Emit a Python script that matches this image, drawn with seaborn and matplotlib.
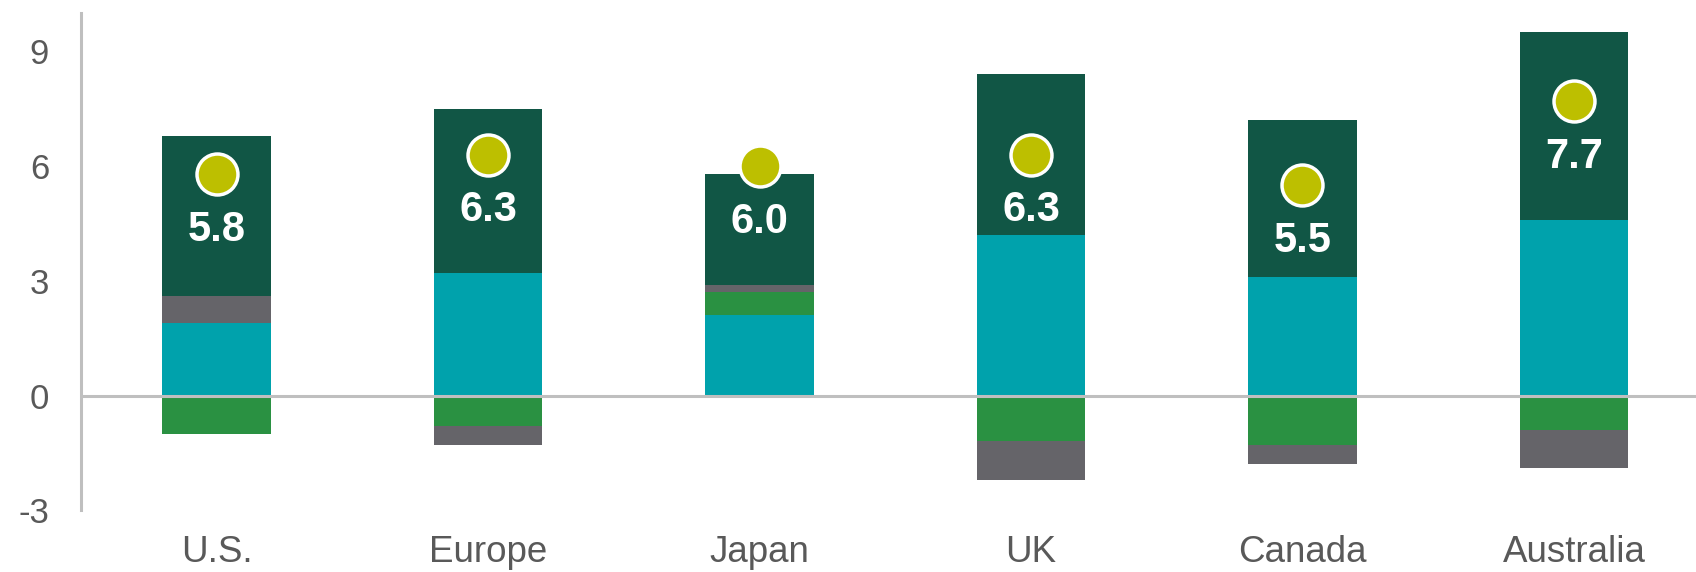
import numpy as np
import pandas as pd
import matplotlib
matplotlib.use("Agg")
import matplotlib.pyplot as plt
import seaborn as sns

# values
regions = ["U.S.", "Europe", "Japan", "UK", "Canada", "Australia"]
teal_part = [1.9, 3.2, 2.1, 4.2, 3.1, 4.6]
green_part = [-1.0, -0.8, 0.6, -1.2, -1.3, -0.9]
gray_part = [0.7, -0.5, 0.2, -1.0, -0.5, -1.0]
dark_part = [4.2, 4.3, 2.9, 4.2, 4.1, 4.9]
totals = [5.8, 6.3, 6.0, 6.3, 5.5, 7.7]

c_teal = "#00A2AC"
c_green = "#2A9142"
c_gray = "#656469"
c_dark = "#115645"
c_dot = "#BDBF00"
c_axis = "#BFBFBF"
c_text = "#595959"

sns.set_style("white")
plt.rcParams["font.family"] = ["Liberation Sans", "DejaVu Sans"]

teal = np.array(teal_part)
green = np.array(green_part)
gray = np.array(gray_part)
dark = np.array(dark_part)

# cumulative stacks (positive side: teal, green, gray, dark; negative side: green, gray)
pos1 = teal
pos2 = pos1 + np.clip(green, 0, None)
pos3 = pos2 + np.clip(gray, 0, None)
pos4 = pos3 + dark
neg1 = np.clip(green, None, 0)
neg2 = neg1 + np.clip(gray, None, 0)

fig = plt.figure(figsize=(16.96, 5.72), dpi=100)
ax = fig.add_axes([0.0478, 0.108, 0.9522, 0.869])

layers = [(pos4, c_dark), (pos3, c_gray), (pos2, c_green), (pos1, c_teal),
          (neg2, c_gray), (neg1, c_green)]
for vals, col in layers:
    sns.barplot(x=regions, y=vals, color=col, width=0.4, saturation=1,
                linewidth=0, ax=ax, zorder=2)

ax.axhline(0, color=c_axis, lw=2.2, zorder=3)

sns.scatterplot(x=regions, y=totals, s=870, color=c_dot, edgecolor="white",
                linewidth=2.5, ax=ax, zorder=5, legend=False)
for i, v in enumerate(totals):
    ax.text(i, v - 1.46, f"{v:.1f}", ha="center", va="center", color="white",
            fontsize=30, fontweight="bold", zorder=6)

ax.set_xlim(-0.5, 5.45)
ax.set_ylim(-3, 10)
ax.set_yticks([-3, 0, 3, 6, 9])
ax.set_yticklabels(["-3", "0", "3", "6", "9"])
ax.tick_params(axis="y", length=0, pad=23, labelsize=25, labelcolor=c_text)
ax.tick_params(axis="x", length=0, pad=18, labelsize=26.5, labelcolor=c_text)
ax.set_xlabel("")
ax.set_ylabel("")

for side in ["top", "right", "bottom"]:
    ax.spines[side].set_visible(False)
ax.spines["left"].set_color(c_axis)
ax.spines["left"].set_linewidth(2.2)

fig.savefig("out.png", dpi=100)
